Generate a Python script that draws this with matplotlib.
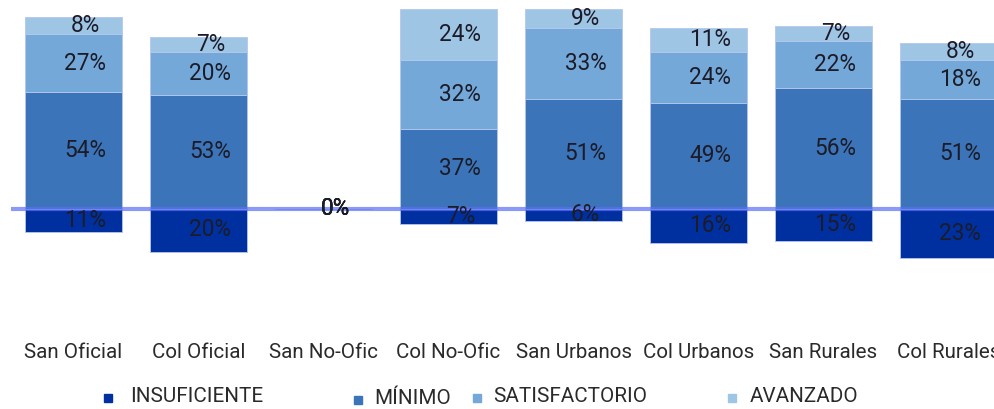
import matplotlib
matplotlib.use("Agg")
import matplotlib.pyplot as plt
from matplotlib.patches import Rectangle

categories = ['San Oficial', 'Col Oficial', 'San No-Ofic', 'Col No-Ofic',
              'San Urbanos', 'Col Urbanos', 'San Rurales', 'Col Rurales']
insuficiente = [11, 20, 0, 7, 6, 16, 15, 23]
minimo = [54, 53, 0, 37, 51, 49, 56, 51]
satisfactorio = [27, 20, 0, 32, 33, 24, 22, 18]
avanzado = [8, 7, 0, 24, 9, 11, 7, 8]
series_names = ['INSUFICIENTE', 'MÍNIMO', 'SATISFACTORIO', 'AVANZADO']

colors = ['#0030a0', '#3b74b8', '#74a8d9', '#9fc5e5']
font_kw = {'family': ['Roboto', 'DejaVu Sans']}

W, H = 994, 409
fig = plt.figure(figsize=(W / 100, H / 100), dpi=100)
ymin, ymax = -60, 97
ax_h = (ymax - ymin) * 2.15
zero_from_bottom = H - 208.5
ax_bottom = zero_from_bottom - (0 - ymin) * 2.15
ax = fig.add_axes([11 / W, ax_bottom / H, 1000 / W, ax_h / H])
ax.set_xlim(-0.5, 7.5)
ax.set_ylim(ymin, ymax)
for s in ax.spines.values():
    s.set_visible(False)
ax.set_yticks([])

x = list(range(len(categories)))
bw = 0.78
edge = dict(edgecolor='#b4c6ee', linewidth=0.6)

ax.bar(x, [-v for v in insuficiente], width=bw, bottom=0, color=colors[0], zorder=2, **edge)
ax.bar(x, minimo, width=bw, bottom=0, color=colors[1], zorder=2, **edge)
b2 = [m for m in minimo]
ax.bar(x, satisfactorio, width=bw, bottom=b2, color=colors[2], zorder=2, **edge)
b3 = [m + s for m, s in zip(minimo, satisfactorio)]
ax.bar(x, avanzado, width=bw, bottom=b3, color=colors[3], zorder=2, **edge)

ax.axhline(0, color='#5b6ff5', alpha=0.7, lw=3, zorder=3)

lab_kw = dict(ha='center', va='center', fontsize=16.3, color='#1c1c28', zorder=4, **font_kw)
dx = 0.095
for i in x:
    segs = [(-insuficiente[i], 0, insuficiente[i]),
            (0, minimo[i], minimo[i]),
            (b2[i], b2[i] + satisfactorio[i], satisfactorio[i]),
            (b3[i], b3[i] + avanzado[i], avanzado[i])]
    for lo, hi, v in segs:
        hi_vis = min(hi, ymax)
        yc = (lo + hi_vis) / 2
        ax.text(i + dx, yc, f'{v}%', **lab_kw)

ax.set_xticks(x)
ax.set_xticklabels(categories, fontsize=14.8, color='#2a2a2a', **font_kw)
ax.tick_params(axis='x', length=0, pad=4)

leg = [(108, 130, 397), (358, 374, 399), (477, 493, 397), (732, 750, 397)]
for (mx, tx, ty), name, c in zip(leg, series_names, colors):
    fig.patches.append(Rectangle(((mx - 4) / W, (H - ty - 4.5) / H), 8 / W, 8 / H,
                                 transform=fig.transFigure, color=c))
    fig.text(tx / W, (H - ty) / H, name, ha='left', va='center', fontsize=14.9,
             color='#2a2a2a', **font_kw)

fig.savefig('out.png', dpi=100)
